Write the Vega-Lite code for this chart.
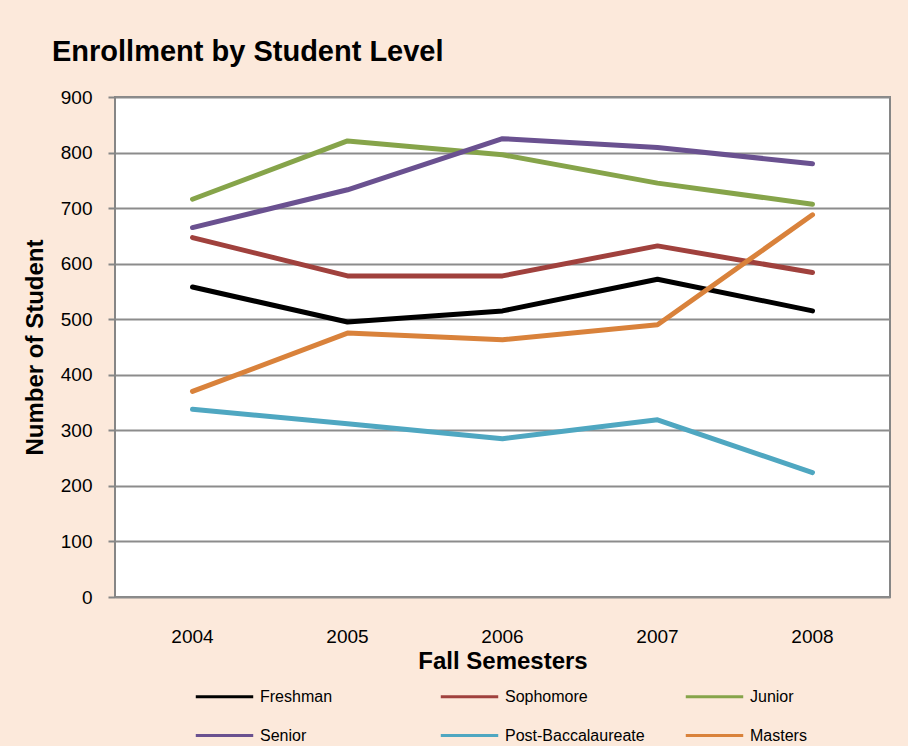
{
  "$schema": "https://vega.github.io/schema/vega-lite/v6.json",
  "autosize": "none",
  "width": 775,
  "height": 500,
  "padding": {"left": 115, "top": 97, "right": 18, "bottom": 149},
  "background": "#FCE9DB",
  "title": {
    "text": "Enrollment by Student Level",
    "anchor": "start",
    "frame": "group",
    "dx": -63,
    "offset": 21,
    "font": "Liberation Sans",
    "fontSize": 29,
    "fontWeight": "bold",
    "color": "#000000"
  },
  "data": {
    "values": [
      {"year": "2004", "level": "Freshman", "n": 558},
      {"year": "2005", "level": "Freshman", "n": 495},
      {"year": "2006", "level": "Freshman", "n": 515},
      {"year": "2007", "level": "Freshman", "n": 572},
      {"year": "2008", "level": "Freshman", "n": 515},
      {"year": "2004", "level": "Sophomore", "n": 647},
      {"year": "2005", "level": "Sophomore", "n": 578},
      {"year": "2006", "level": "Sophomore", "n": 578},
      {"year": "2007", "level": "Sophomore", "n": 632},
      {"year": "2008", "level": "Sophomore", "n": 584},
      {"year": "2004", "level": "Junior", "n": 716},
      {"year": "2005", "level": "Junior", "n": 821},
      {"year": "2006", "level": "Junior", "n": 796},
      {"year": "2007", "level": "Junior", "n": 745},
      {"year": "2008", "level": "Junior", "n": 707},
      {"year": "2004", "level": "Senior", "n": 665},
      {"year": "2005", "level": "Senior", "n": 733},
      {"year": "2006", "level": "Senior", "n": 825},
      {"year": "2007", "level": "Senior", "n": 809},
      {"year": "2008", "level": "Senior", "n": 780},
      {"year": "2004", "level": "Post-Baccalaureate", "n": 338},
      {"year": "2005", "level": "Post-Baccalaureate", "n": 312},
      {"year": "2006", "level": "Post-Baccalaureate", "n": 285},
      {"year": "2007", "level": "Post-Baccalaureate", "n": 319},
      {"year": "2008", "level": "Post-Baccalaureate", "n": 224},
      {"year": "2004", "level": "Masters", "n": 370},
      {"year": "2005", "level": "Masters", "n": 475},
      {"year": "2006", "level": "Masters", "n": 463},
      {"year": "2007", "level": "Masters", "n": 490},
      {"year": "2008", "level": "Masters", "n": 688}
    ]
  },
  "mark": {"type": "line", "strokeWidth": 5, "strokeCap": "round", "strokeJoin": "round"},
  "encoding": {
    "x": {
      "field": "year",
      "type": "ordinal",
      "scale": {"type": "band", "paddingInner": 0, "paddingOuter": 0},
      "axis": {
        "title": "Fall Semesters",
        "labelAngle": 0,
        "ticks": false,
        "domain": false,
        "grid": false,
        "labelPadding": 30,
        "labelFontSize": 19,
        "labelFont": "Liberation Sans",
        "labelColor": "#000000",
        "titleFont": "Liberation Sans",
        "titleFontSize": 24,
        "titleFontWeight": "bold",
        "titleColor": "#000000",
        "titlePadding": 3
      }
    },
    "y": {
      "field": "n",
      "type": "quantitative",
      "scale": {"domain": [0, 900], "nice": false},
      "axis": {
        "title": "Number of Student",
        "values": [0, 100, 200, 300, 400, 500, 600, 700, 800, 900],
        "tickSize": 7,
        "tickColor": "#868686",
        "tickWidth": 2,
        "domain": false,
        "gridColor": "#8C8C8C",
        "gridWidth": 2,
        "labelPadding": 16,
        "labelFontSize": 19,
        "labelFont": "Liberation Sans",
        "labelColor": "#000000",
        "titleFont": "Liberation Sans",
        "titleFontSize": 24,
        "titleFontWeight": "bold",
        "titleColor": "#000000",
        "titlePadding": 13
      }
    },
    "color": {
      "field": "level",
      "type": "nominal",
      "sort": ["Freshman", "Sophomore", "Junior", "Senior", "Post-Baccalaureate", "Masters"],
      "scale": {
        "domain": ["Freshman", "Sophomore", "Junior", "Senior", "Post-Baccalaureate", "Masters"],
        "range": ["#000000", "#A0413D", "#86A44A", "#6A5190", "#4FA7C1", "#D9823B"]
      },
      "legend": {
        "title": null,
        "orient": "none",
        "legendX": 79,
        "legendY": 569,
        "direction": "horizontal",
        "columns": 3,
        "gridAlign": "all",
        "columnPadding": 34,
        "rowPadding": -5,
        "symbolType": "stroke",
        "symbolSize": 3300,
        "symbolStrokeWidth": 3,
        "labelOffset": 5,
        "labelFont": "Liberation Sans",
        "labelFontSize": 16,
        "labelColor": "#000000"
      }
    }
  },
  "config": {
    "view": {"fill": "#FFFFFF", "stroke": "#868686", "strokeWidth": 2}
  }
}
